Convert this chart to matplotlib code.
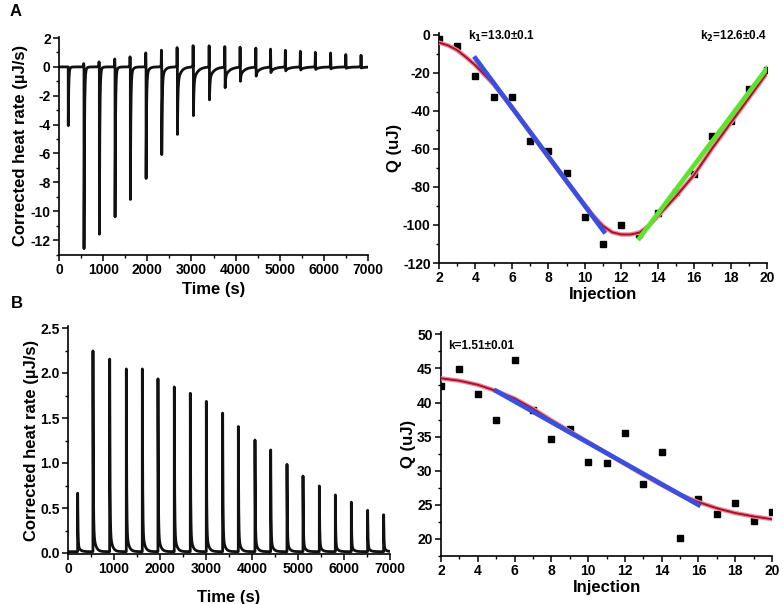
import numpy as np
import matplotlib
matplotlib.use("Agg")
import matplotlib.pyplot as plt
from matplotlib.ticker import MultipleLocator, FormatStrFormatter

plt.rcParams['font.family'] = ['Liberation Sans', 'DejaVu Sans']
plt.rcParams['font.weight'] = 'bold'
plt.rcParams['axes.unicode_minus'] = False

# ---------------- Panel A, left: thermogram (per-injection values)
a_times = [210, 567, 915, 1270, 1617, 1973, 2328, 2683, 3046, 3409,
           3764, 4110, 4467, 4800, 5135, 5475, 5815, 6160, 6505, 6850]
a_min = [-4.07, -12.6, -11.6, -10.4, -9.2, -7.75, -6.1, -4.7, -3.4, -2.3,
         -1.45, -1.0, -0.65, -0.4, -0.28, -0.22, -0.18, -0.14, -0.1, -0.08]
a_spike = [0.0, 0.23, 0.35, 0.55, 0.7, 0.97, 1.16, 1.34, 1.48, 1.48,
           1.43, 1.39, 1.32, 1.25, 1.16, 1.09, 1.02, 0.97, 0.86, 0.81]
a_tail_frac = [0.05, 0.05, 0.05, 0.05, 0.08, 0.1, 0.15, 0.25, 0.3, 0.35,
               0.45, 0.55, 0.65, 0.7, 0.75, 0.75, 0.75, 0.75, 0.75, 0.75]
a_tail_tau = [30, 30, 30, 35, 40, 45, 55, 70, 85, 95,
              100, 100, 100, 100, 100, 100, 100, 100, 100, 100]

# ---------------- Panel A, right: Q vs injection
a_inj = list(range(2, 21))
a_q = [-2.3, -5.6, -21.7, -32.4, -32.4, -55.9, -61.3, -72.7, -95.8, -109.8,
       -100.2, -104.6, -93.7, -82.8, -73.0, -52.9, -45.2, -28.4, -18.4]
a_fit_x = [2, 2.5, 3, 3.5, 4, 5, 6, 7, 8, 9, 10, 10.5, 11, 11.5, 12, 12.5, 13,
           13.5, 14, 15, 16, 17, 18, 19, 20]
a_fit_y = [-4.0, -5.5, -8.0, -11.8, -16.0, -26.0, -38.0, -51.0, -64.0, -77.0,
           -89.5, -95.5, -100.5, -103.8, -105.0, -105.0, -104.0, -100.5,
           -95.5, -85.0, -73.6, -59.6, -46.4, -33.3, -20.0]
a_lin1_x = [4, 11.05]
a_lin1_y = [-12.3, -103.4]
a_lin2_x = [13, 20]
a_lin2_y = [-106.9, -17.5]

# ---------------- Panel B, left: thermogram
b_times = [210, 543, 906, 1268, 1616, 1956, 2311, 2659, 3007, 3362,
           3703, 4065, 4406, 4761, 5109, 5464, 5812, 6159, 6514, 6862]
b_peak = [0.65, 2.23, 2.14, 2.03, 2.03, 1.92, 1.83, 1.76, 1.67, 1.54,
          1.39, 1.24, 1.13, 0.97, 0.84, 0.73, 0.63, 0.55, 0.46, 0.41]

# ---------------- Panel B, right
b_inj = list(range(2, 21))
b_q = [42.4, 44.9, 41.3, 37.4, 46.2, 38.9, 34.6, 36.1, 31.3, 31.1,
       35.6, 28.1, 32.7, 20.2, 25.8, 23.6, 25.3, 22.7, 24.0]
b_fit_x = list(range(2, 21))
b_fit_y = [43.55, 43.2, 42.6, 41.7, 40.6, 39.1, 37.4, 35.8, 34.2, 32.6,
           31.0, 29.4, 27.9, 26.5, 25.4, 24.5, 23.8, 23.3, 22.9]
b_lin_x = [5, 16]
b_lin_y = [41.7, 25.0]

RED = '#a5122a'
PINK = '#f2899b'
BLUE = '#3b4ede'
GREEN = '#5fe22e'

fig = plt.figure(figsize=(7.83, 6.04), dpi=100)
W, H = 783.0, 604.0


def ax_px(x0, x1, y0, y1):
    return fig.add_axes([x0 / W, 1 - y1 / H, (x1 - x0) / W, (y1 - y0) / H])


def style(ax):
    for s in ['top', 'right']:
        ax.spines[s].set_visible(False)
    for s in ['left', 'bottom']:
        ax.spines[s].set_linewidth(1.2)
    ax.tick_params(which='major', direction='out', length=4, width=1.1,
                   labelsize=10, pad=2)
    ax.tick_params(which='minor', direction='out', length=2.5, width=1.0)
    for lab in ax.get_xticklabels() + ax.get_yticklabels():
        lab.set_fontweight('bold')


# ---- build traces
t = np.arange(0, 7001, 1.0)
ya = np.zeros_like(t)
for t0, m, h, f, tau in zip(a_times, a_min, a_spike, a_tail_frac, a_tail_tau):
    ya += h * np.exp(-((t - (t0 - 8)) / 4.0) ** 2)
    s = t - t0
    mask = s >= 0
    ya[mask] += m * ((1 - f) * np.exp(-s[mask] / 10.0) + f * np.exp(-s[mask] / tau))

yb = np.full_like(t, 0.015)
for t0, h in zip(b_times, b_peak):
    s = t - t0
    mask = s >= 0
    yb[mask] += h * (0.88 * np.exp(-s[mask] / 7.0) + 0.12 * np.exp(-s[mask] / 45.0))

# ---- A left
ax1 = ax_px(59, 368, 36.6, 254.5)
ax1.plot(t, ya, color='#111111', lw=2.0)
ax1.set_xlim(0, 7000)
ax1.set_ylim(-13, 2.1)
ax1.set_yticks(np.arange(-12, 3, 2))
ax1.xaxis.set_major_locator(MultipleLocator(1000))
ax1.xaxis.set_minor_locator(MultipleLocator(500))
ax1.yaxis.set_minor_locator(MultipleLocator(1))
style(ax1)
ax1.set_xlabel('Time (s)', fontsize=12, fontweight='bold', labelpad=4)
ax1.set_ylabel('Corrected heat rate (µJ/s)', fontsize=12, fontweight='bold', labelpad=2)

# ---- A right
ax2 = ax_px(439, 767, 33.1, 263)
ax2.plot(a_inj, a_q, 's', color='black', ms=4.5, zorder=2)
ax2.plot(a_fit_x, a_fit_y, color=PINK, lw=3.2, zorder=3, solid_capstyle='round')
ax2.plot(a_fit_x, a_fit_y, color=RED, lw=1.4, zorder=4)
ax2.plot(a_lin1_x, a_lin1_y, color=BLUE, lw=3.4, zorder=5)
ax2.plot(a_lin2_x, a_lin2_y, color=GREEN, lw=3.4, zorder=5)
ax2.set_xlim(2, 20)
ax2.set_ylim(-120, 1)
ax2.xaxis.set_major_locator(MultipleLocator(2))
ax2.xaxis.set_minor_locator(MultipleLocator(1))
ax2.yaxis.set_major_locator(MultipleLocator(20))
ax2.yaxis.set_minor_locator(MultipleLocator(10))
style(ax2)
ax2.set_xlabel('Injection', fontsize=12, fontweight='bold', labelpad=1)
ax2.set_ylabel('Q (uJ)', fontsize=12, fontweight='bold', labelpad=1)
ax2.text(3.6, -0.5, 'k$_{\\mathbf{1}}$=13.0±0.1', fontsize=8.5, fontweight='bold',
         ha='left', va='center')
ax2.text(20, -0.5, 'k$_{\\mathbf{2}}$=12.6±0.4', fontsize=8.5, fontweight='bold',
         ha='right', va='center')

# ---- B left
ax3 = ax_px(68, 390, 326.2, 553.9)
ax3.plot(t, yb, color='#111111', lw=2.0)
ax3.set_xlim(0, 7000)
ax3.set_ylim(-0.01, 2.52)
ax3.xaxis.set_major_locator(MultipleLocator(1000))
ax3.xaxis.set_minor_locator(MultipleLocator(500))
ax3.yaxis.set_major_locator(MultipleLocator(0.5))
ax3.yaxis.set_minor_locator(MultipleLocator(0.25))
ax3.yaxis.set_major_formatter(FormatStrFormatter('%.1f'))
style(ax3)
ax3.set_xlabel('Time (s)', fontsize=12, fontweight='bold', labelpad=10)
ax3.set_ylabel('Corrected heat rate (µJ/s)', fontsize=12, fontweight='bold', labelpad=1)

# ---- B right
ax4 = ax_px(441, 772, 332.3, 556)
ax4.plot(b_inj, b_q, 's', color='black', ms=4.5, zorder=2)
ax4.plot(b_fit_x, b_fit_y, color=PINK, lw=3.2, zorder=3)
ax4.plot(b_fit_x, b_fit_y, color=RED, lw=1.4, zorder=4)
ax4.plot(b_lin_x, b_lin_y, color=BLUE, lw=3.4, zorder=5)
ax4.set_xlim(2, 20)
ax4.set_ylim(17.5, 50.3)
ax4.xaxis.set_major_locator(MultipleLocator(2))
ax4.xaxis.set_minor_locator(MultipleLocator(1))
ax4.yaxis.set_major_locator(MultipleLocator(5))
ax4.yaxis.set_minor_locator(MultipleLocator(2.5))
style(ax4)
ax4.set_xlabel('Injection', fontsize=12, fontweight='bold', labelpad=1)
ax4.set_ylabel('Q (uJ)', fontsize=12, fontweight='bold', labelpad=1)
ax4.text(2.4, 48.3, 'k=1.51±0.01', fontsize=8.5, fontweight='bold',
         ha='left', va='center')

fig.text(16 / W, 1 - 11 / H, 'A', fontsize=12, fontweight='bold', ha='center', va='center')
fig.text(17 / W, 1 - 303 / H, 'B', fontsize=12, fontweight='bold', ha='center', va='center')

fig.savefig('out.png', dpi=100)
